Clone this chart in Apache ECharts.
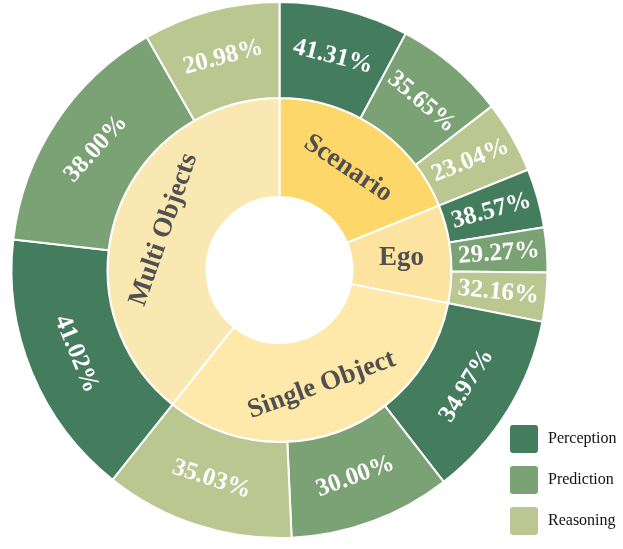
<!DOCTYPE html>
<html>
<head>
<meta charset="utf-8">
<script src="https://cdn.jsdelivr.net/npm/echarts@6/dist/echarts.min.js"></script>
<style>
  html, body { margin: 0; padding: 0; background: #fff; }
  #chart { width: 623px; height: 549px; }
</style>
</head>
<body>
<div id="chart"></div>
<script>
// inner ring: share of each question group (percent of the whole circle)
const categories = ['Scenario', 'Ego', 'Single Object', 'Multi Objects'];
const categoryShare = [18.9, 9.2, 32.6, 39.3];

// outer ring: split of each group into task types (percent inside the group)
const tasks = ['Perception', 'Prediction', 'Reasoning'];
const perception = [41.31, 38.57, 34.97, 41.02];
const prediction = [35.65, 29.27, 30.00, 38.00];
const reasoning = [23.04, 32.16, 35.03, 20.98];

const taskColors = ['#447d5d', '#7ba274', '#bbc791'];
const categoryColors = ['#fed76a', '#fde3a0', '#fee9aa', '#fae8b3'];
const serif = '"Liberation Serif", "Times New Roman", serif';

// a few labels are turned by hand, like in the original figure
const innerRotate = { 'Ego': 0 };
const outerRotate = {
  'Ego': 'radial',
  'Scenario/Reasoning': 22,
  'Multi Objects/Prediction': 48
};

const taskValues = [perception, prediction, reasoning];

const data = categories.map((name, i) => {
  const node = {
    name,
    itemStyle: { color: categoryColors[i] },
    children: tasks.map((task, j) => {
      const child = {
        name: task,
        value: categoryShare[i] * taskValues[j][i] / 100,
        pct: taskValues[j][i],
        itemStyle: { color: taskColors[j] }
      };
      const rot = outerRotate[name + '/' + task] !== undefined
        ? outerRotate[name + '/' + task] : outerRotate[name];
      if (rot !== undefined) child.label = { rotate: rot };
      return child;
    })
  };
  if (innerRotate[name] !== undefined) node.label = { rotate: innerRotate[name] };
  return node;
});

const chart = echarts.init(document.getElementById('chart'));

chart.setOption({
  animation: false,
  legend: {
    orient: 'vertical',
    left: 505,
    top: 420,
    itemWidth: 28,
    itemHeight: 28,
    itemGap: 13,
    icon: 'path://M3,0 H25 A3,3 0 0 1 28,3 V25 A3,3 0 0 1 25,28 H3 A3,3 0 0 1 0,25 V3 A3,3 0 0 1 3,0 Z',
    textStyle: { fontFamily: serif, fontSize: 16, color: '#111', padding: [0, 0, 0, 5] },
    data: tasks
  },
  series: [
    {
      type: 'sunburst',
      center: [279.5, 270],
      radius: [73, 268],
      sort: null,
      startAngle: 90,
      nodeClick: false,
      data,
      itemStyle: { borderColor: '#fff', borderWidth: 2 },
      levels: [
        {},
        {
          radius: [73, 172],
          label: {
            rotate: 'tangential',
            color: '#505050',
            fontFamily: serif,
            fontWeight: 'bold',
            fontSize: 27
          }
        },
        {
          radius: [172, 268],
          label: {
            rotate: 'tangential',
            color: '#fff',
            fontFamily: serif,
            fontWeight: 'bold',
            fontSize: 25,
            formatter: p => p.data.pct.toFixed(2) + '%'
          }
        }
      ]
    },
    {
      // hidden pie, only there so the legend has entries
      type: 'pie',
      radius: [0, 0],
      center: [279.5, 270],
      silent: true,
      label: { show: false },
      labelLine: { show: false },
      data: tasks.map((t, j) => ({ name: t, value: 1, itemStyle: { color: taskColors[j] } }))
    }
  ]
});
</script>
</body>
</html>
